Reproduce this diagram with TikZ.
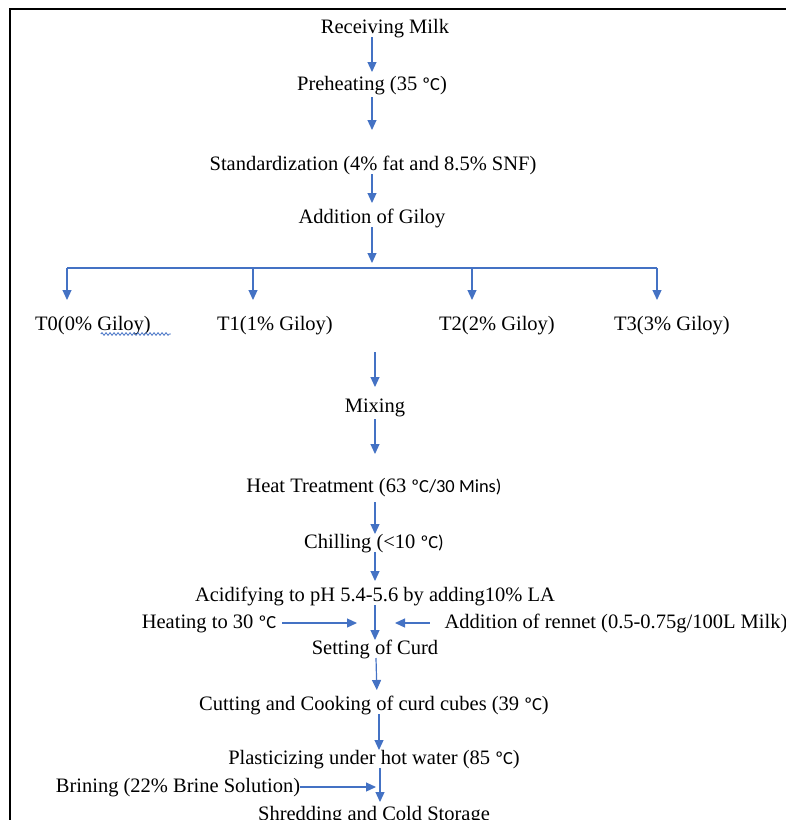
\documentclass[tikz,border=0pt]{standalone}
\usepackage{fontspec}
\setmainfont{Liberation Serif}
\newfontfamily\calib[Scale=0.9]{Carlito}
\usetikzlibrary{arrows.meta, decorations.pathmorphing}
\definecolor{wordblue}{RGB}{68,114,196}
\newcommand{\degc}{{\calib ºC}}

\begin{document}
\begin{tikzpicture}[x=1pt,y=-1pt,
  stage/.style={inner sep=0pt, outer sep=0pt, text height=14pt, text depth=4pt, anchor=base,
    font=\fontsize{20.5}{24}\selectfont},
  flow/.style={draw=wordblue, line width=1.2pt, -{Triangle[length=10pt,width=9pt]}},
  link/.style={draw=wordblue, line width=1.2pt}]
\useasboundingbox (0,0) rectangle (786,820);
\draw[line width=2pt] (10,830) -- (10,9) -- (800,9);

\node[stage] (rcv) at (385,33) {Receiving Milk};
\node[stage] (pre) at (372,90) {Preheating (35 \degc)};
\node[stage] (std) at (373,170) {Standardization (4\% fat and 8.5\% SNF)};
\node[stage] (add) at (372,223) {Addition of Giloy};
\node[stage] (t0) at (93,330) {T0(0\% Giloy)};
\node[stage] (t1) at (275,330) {T1(1\% Giloy)};
\node[stage] (t2) at (497,330) {T2(2\% Giloy)};
\node[stage] (t3) at (672,330) {T3(3\% Giloy)};
\node[stage] (mix) at (375,412) {Mixing};
\node[stage] (heat) at (374,492) {Heat Treatment (63 {\calib ºC/30 Mins)}};
\node[stage] (chill) at (374,548) {Chilling (<10 {\calib ºC)}};
\node[stage] (acid) at (375,601) {Acidifying to pH 5.4-5.6 by adding10\% LA};
\node[stage] (h30) at (209,628) {Heating to 30 \degc};
\node[stage] (ren) at (616,628) {Addition of rennet (0.5-0.75g/100L Milk)};
\node[stage] (set) at (375,654) {Setting of Curd};
\node[stage] (cut) at (374,710) {Cutting and Cooking of curd cubes (39 \degc)};
\node[stage] (pla) at (374,764) {Plasticizing under hot water (85 \degc)};
\node[stage] (brn) at (178,792) {Brining (22\% Brine Solution)};
\node[stage] (shr) at (374,820) {Shredding and Cold Storage};

% split bar
\coordinate (b0) at (67,268);
\coordinate (b1) at (253,268);
\coordinate (b2) at (472,268);
\coordinate (b3) at (657,268);
\coordinate (mixin) at (375,352);

\draw[flow, shorten >=4pt] (rcv.south -| pre) -- (pre.north);
\draw[flow, shorten <=3pt, shorten >=26pt] (pre.south) -- (pre.south |- std.north);
\draw[flow, shorten >=6pt] (std.south -| add) -- (add.north);
\draw[flow, shorten >=5pt] (add.south) -- (add.south |- b0);
\draw[link] (b0) -- (b3);
\foreach \b/\t in {b0/t0, b1/t1, b2/t2, b3/t3}
  \draw[flow, shorten >=16pt] (\b) -- (\b |- \t.north);
\draw[wordblue, line width=0.8pt, decorate, decoration={snake, amplitude=1.3pt, segment length=4pt}]
  ([xshift=-50pt,yshift=-4pt]t0.base east) -- ([xshift=20pt,yshift=-4pt]t0.base east);
\draw[flow, shorten >=11pt] (mixin) -- (mixin |- mix.north);
\draw[flow, shorten <=3pt, shorten >=24pt] (mix.south) -- (mix.south |- heat.north);
\draw[flow, shorten <=6pt] (heat.south -| mix) -- (chill.north -| mix);
\draw[flow, shorten >=6pt] (chill.south -| mix) -- (acid.north);
\draw[flow] (acid.south) -- (set.north);
\draw[flow, shorten <=6pt, shorten >=18pt] (h30.east) -- (h30.east -| set);
\draw[flow, shorten <=15pt, shorten >=20pt] (ren.west) -- (ren.west -| set);
\draw[flow, shorten >=6pt] ([xshift=1pt]set.south) -- ([xshift=2pt]set.south |- cut.north);
\draw[flow] ([xshift=5pt]cut.south) -- ([xshift=5pt]pla.north);
\draw[flow, shorten >=4pt] ([xshift=6pt]pla.south) -- ([xshift=6pt]shr.north);
\draw[flow, shorten >=-2pt] (brn.east) -- (brn.east -| shr);
\end{tikzpicture}
\end{document}
